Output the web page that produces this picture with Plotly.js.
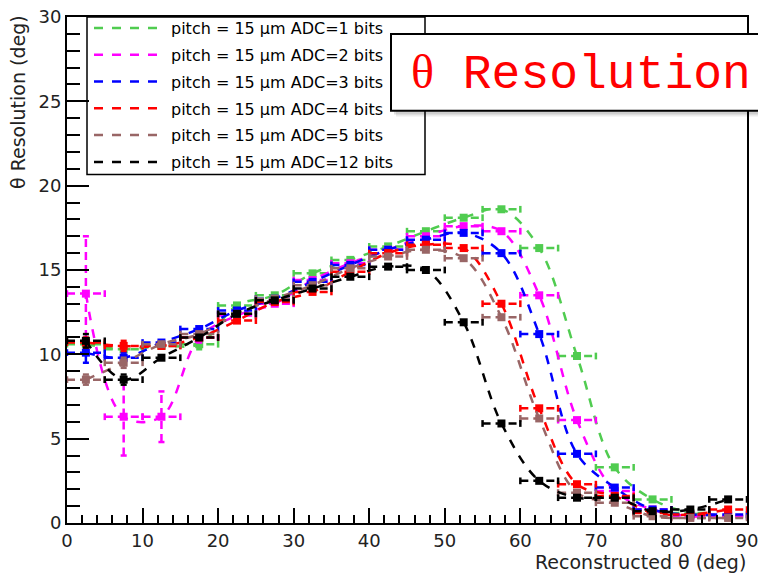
<!DOCTYPE html>
<html>
<head>
<meta charset="utf-8">
<script src="https://cdn.plot.ly/plotly-3.0.1.min.js"></script>
<style>
  html, body { margin: 0; padding: 0; background: #fff; }
  #chart { width: 758px; height: 574px; }
</style>
</head>
<body>
<div id="chart"></div>
<script>
// Bin centres of the reconstructed polar angle (deg), 5-degree bins
const binCenters = [2.5, 7.5, 12.5, 17.5, 22.5, 27.5, 32.5, 37.5, 42.5, 47.5, 52.5, 57.5, 62.5, 67.5, 72.5, 77.5, 82.5, 87.5];

// Theta resolution (deg) per ADC resolution, pitch = 15 um
const adc1  = [10.6, 10.3, 10.5, 10.6, 12.9, 13.5, 14.8, 15.6, 16.4, 17.3, 18.1, 18.6, 16.3, 9.9, 3.3, 1.4, 0.6, 0.4];
const adc2  = [13.6, 6.3, 6.3, 11.0, 12.3, 13.0, 14.4, 15.4, 16.2, 17.0, 17.6, 17.3, 13.5, 6.1, 1.9, 0.8, 0.4, 0.4];
const adc3  = [10.1, 9.8, 10.7, 11.5, 12.6, 13.3, 14.3, 15.3, 16.2, 16.8, 17.2, 16.0, 11.2, 4.1, 2.1, 0.8, 0.5, 0.5];
const adc4  = [10.7, 10.5, 10.5, 11.0, 12.0, 13.1, 13.7, 14.9, 16.0, 16.5, 16.3, 13.0, 6.8, 2.3, 1.6, 0.6, 0.5, 0.8];
const adc5  = [8.5, 9.5, 10.6, 11.2, 12.4, 13.3, 14.1, 15.1, 15.8, 16.2, 15.7, 12.2, 6.2, 1.8, 1.2, 0.4, 0.3, 0.3];
const adc12 = [10.8, 8.5, 9.8, 11.0, 12.4, 13.2, 13.9, 14.6, 15.2, 15.0, 11.9, 5.9, 2.5, 1.5, 1.5, 0.7, 0.8, 1.4];

// Statistical uncertainties (deg)
const adc1Err  = [0.2, 0.2, 0.2, 0.3, 0.2, 0.2, 0.2, 0.2, 0.2, 0.2, 0.2, 0.2, 0.2, 0.2, 0.2, 0.2, 0.1, 0.1];
const adc2Err  = [3.4, 2.3, 1.5, 0.3, 0.2, 0.2, 0.2, 0.2, 0.2, 0.2, 0.2, 0.2, 0.2, 0.2, 0.2, 0.2, 0.1, 0.1];
const adc3Err  = [0.6, 0.3, 0.2, 0.2, 0.2, 0.2, 0.2, 0.2, 0.2, 0.2, 0.2, 0.2, 0.2, 0.2, 0.2, 0.2, 0.1, 0.1];
const adc4Err  = [0.3, 0.3, 0.2, 0.2, 0.2, 0.2, 0.2, 0.2, 0.2, 0.2, 0.2, 0.2, 0.2, 0.2, 0.2, 0.2, 0.1, 0.1];
const adc5Err  = [0.3, 0.3, 0.2, 0.2, 0.2, 0.2, 0.2, 0.2, 0.2, 0.2, 0.2, 0.2, 0.2, 0.2, 0.2, 0.2, 0.1, 0.1];
const adc12Err = [0.4, 0.3, 0.2, 0.2, 0.2, 0.2, 0.2, 0.2, 0.2, 0.2, 0.2, 0.2, 0.2, 0.2, 0.2, 0.2, 0.1, 0.1];

const seriesNames = [
  'pitch = 15 μm ADC=1 bits',
  'pitch = 15 μm ADC=2 bits',
  'pitch = 15 μm ADC=3 bits',
  'pitch = 15 μm ADC=4 bits',
  'pitch = 15 μm ADC=5 bits',
  'pitch = 15 μm ADC=12 bits'
];
const seriesValues = [adc1, adc2, adc3, adc4, adc5, adc12];
const seriesErrors = [adc1Err, adc2Err, adc3Err, adc4Err, adc5Err, adc12Err];
const seriesColors = ['#50cc50', '#ff00ff', '#0000ff', '#ff0000', '#996666', '#000000'];

const BIN_HALF = 2.5;   // half bin width (deg)
const CAP_Y = 0.2;      // end-cap half length on horizontal bars (deg of resolution)
const CAP_X = 0.4;      // end-cap half length on vertical bars (deg)

// Build dashed error-bar segments (horizontal bin width + vertical uncertainty)
function errorSegments(xs, ys, es) {
  const sx = [], sy = [];
  xs.forEach((x, i) => {
    const y = ys[i], e = es[i];
    sx.push(x - BIN_HALF, x + BIN_HALF, null); sy.push(y, y, null);
    sx.push(x - BIN_HALF, x - BIN_HALF, null); sy.push(y - CAP_Y, y + CAP_Y, null);
    sx.push(x + BIN_HALF, x + BIN_HALF, null); sy.push(y - CAP_Y, y + CAP_Y, null);
    if (e > 0.25) {
      sx.push(x, x, null); sy.push(y - e, y + e, null);
      sx.push(x - CAP_X, x + CAP_X, null); sy.push(y + e, y + e, null);
      sx.push(x - CAP_X, x + CAP_X, null); sy.push(y - e, y - e, null);
    }
  });
  return { x: sx, y: sy };
}

const traces = [];
seriesValues.forEach((vals, k) => {
  const color = seriesColors[k];
  const grp = 'g' + k;
  traces.push({
    type: 'scatter', mode: 'lines', x: binCenters, y: vals,
    name: seriesNames[k], legendgroup: grp, showlegend: true,
    line: { color: color, width: 2.5, dash: 'dash', shape: 'spline', smoothing: 1 },
    hoverinfo: 'skip'
  });
  const seg = errorSegments(binCenters, vals, seriesErrors[k]);
  traces.push({
    type: 'scatter', mode: 'lines', x: seg.x, y: seg.y,
    legendgroup: grp, showlegend: false, connectgaps: false,
    line: { color: color, width: 2.5, dash: '8px,5px' },
    hoverinfo: 'skip'
  });
  traces.push({
    type: 'scatter', mode: 'markers', x: binCenters, y: vals,
    legendgroup: grp, showlegend: false,
    marker: { symbol: 'square', size: 8, color: color, line: { width: 0 } },
    hoverinfo: 'x+y'
  });
});

// Pixel helpers for the plot frame (l=67, r=747, t=15, b=523)
const L = 67, R = 747, T = 15, B = 523;
const px2x = p => (p - L) / (R - L);
const px2y = p => (B - p) / (B - T);

const axisFont = { family: 'DejaVu Sans', size: 18, color: '#222' };
const titleFont = { family: 'DejaVu Sans', size: 19, color: '#222' };

const layout = {
  width: 758, height: 574,
  margin: { l: L, r: 758 - R, t: T, b: 574 - B, pad: 0 },
  paper_bgcolor: '#fff', plot_bgcolor: '#fff',
  showlegend: true,
  xaxis: {
    range: [0, 90], dtick: 10, tick0: 0,
    ticks: 'inside', ticklen: 15, tickwidth: 2, tickcolor: '#000',
    minor: { dtick: 2, ticks: 'inside', ticklen: 8, tickwidth: 2, tickcolor: '#000' },
    showgrid: false, zeroline: false,
    showline: true, linecolor: '#000', linewidth: 2, mirror: true,
    tickfont: axisFont, ticklabeloverflow: 'allow'
  },
  yaxis: {
    range: [0, 30], dtick: 5, tick0: 0,
    ticks: 'inside', ticklen: 22, tickwidth: 2, tickcolor: '#000',
    minor: { dtick: 1, ticks: 'inside', ticklen: 13, tickwidth: 2, tickcolor: '#000' },
    showgrid: false, zeroline: false,
    showline: true, linecolor: '#000', linewidth: 2, mirror: true,
    tickfont: axisFont, ticklabeloverflow: 'allow'
  },
  legend: {
    x: px2x(89), xanchor: 'left', y: px2y(9), yanchor: 'top',
    bgcolor: 'rgba(0,0,0,0)', borderwidth: 0,
    font: { family: 'DejaVu Sans', size: 16, color: '#000' },
    itemwidth: 72, tracegroupgap: 3, traceorder: 'grouped'
  },
  shapes: [
    // legend frame
    { type: 'rect', xref: 'paper', yref: 'paper', layer: 'below',
      x0: px2x(87), x1: px2x(425), y0: px2y(173), y1: px2y(15),
      fillcolor: '#fff', line: { color: '#000', width: 1.5 } },
    // soft drop shadow of the title box
    { type: 'rect', xref: 'paper', yref: 'paper', layer: 'above',
      x0: px2x(396), x1: px2x(800), y0: px2y(115), y1: px2y(37),
      fillcolor: 'rgba(0,0,0,0.08)', line: { width: 0 } },
    { type: 'rect', xref: 'paper', yref: 'paper', layer: 'above',
      x0: px2x(394), x1: px2x(800), y0: px2y(113), y1: px2y(35),
      fillcolor: 'rgba(0,0,0,0.12)', line: { width: 0 } },
    // title box
    { type: 'rect', xref: 'paper', yref: 'paper', layer: 'above',
      x0: px2x(391), x1: px2x(800), y0: px2y(109), y1: px2y(32),
      fillcolor: '#fff', line: { color: '#000', width: 2 } }
  ],
  annotations: [
    { xref: 'paper', yref: 'paper', x: px2x(409), y: px2y(72),
      xanchor: 'left', yanchor: 'middle', showarrow: false,
      text: '<span style="font-family:Liberation Serif">θ</span> Resolution',
      font: { family: 'Liberation Mono', size: 48, color: '#ff0000' } },
    { xref: 'paper', yref: 'paper', x: px2x(748), y: px2y(549),
      xanchor: 'right', yanchor: 'top', showarrow: false,
      text: 'Reconstructed θ (deg)', font: titleFont },
    { xref: 'paper', yref: 'paper', x: px2x(5), y: px2y(11),
      xanchor: 'left', yanchor: 'top', showarrow: false, textangle: -90,
      text: 'θ Resolution (deg)', font: titleFont }
  ]
};

Plotly.newPlot('chart', traces, layout, { displayModeBar: false, staticPlot: true });
</script>
</body>
</html>
